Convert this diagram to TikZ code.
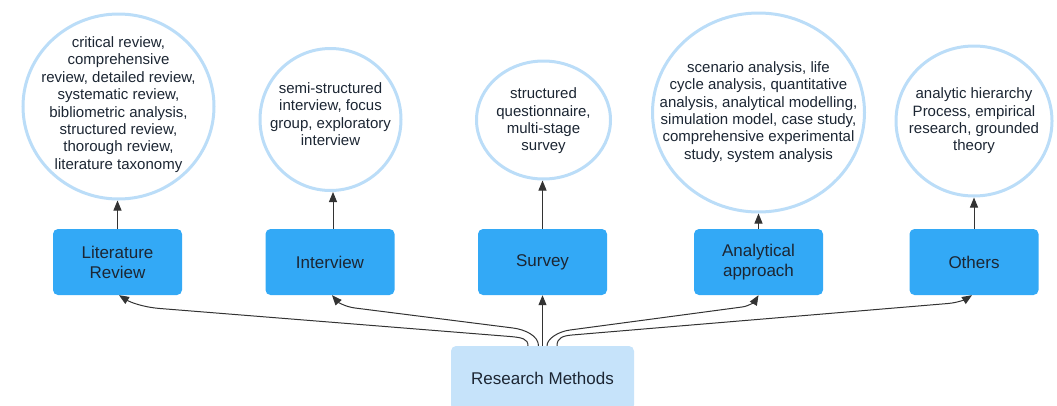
\documentclass[tikz,border=0pt]{standalone}
\usepackage{fontspec}
\setmainfont{Liberation Sans}
\usetikzlibrary{arrows.meta,calc,shapes.geometric}
\definecolor{boxblue}{HTML}{33A9F6}
\definecolor{rmblue}{HTML}{C6E3FA}
\definecolor{ringblue}{HTML}{BBDDF8}
\definecolor{txt}{HTML}{1C2633}
\definecolor{arr}{HTML}{333333}
\begin{document}
\begin{tikzpicture}[x=1pt,y=-1pt,
 method/.style={draw=none, fill=boxblue, rounded corners=5pt, minimum width=129pt, minimum height=66pt, align=center, font=\fontsize{17}{20}\selectfont, text=txt, inner sep=0pt},
 root/.style={fill=rmblue, rounded corners=5pt, minimum width=183pt, minimum height=64pt, font=\fontsize{17}{20}\selectfont, text=txt, inner sep=0pt},
 ring/.style={ellipse, draw=ringblue, line width=3pt, fill=white, inner sep=0pt},
 ringtext/.style={align=center, font=\fontsize{15}{17.4}\selectfont, text=txt, inner sep=0pt},
 conn/.style={draw=arr, line width=1pt, -{Triangle[length=10pt,width=8pt]}}
]
\useasboundingbox (0,0) rectangle (1057,405);

% rings
\node[ring, minimum width=191pt, minimum height=185pt] (c1) at (118.5,106.5) {};
\node[ringtext] (t1) at (118.5,104.5) {critical review,\\comprehensive\\review, detailed review,\\systematic review,\\bibliometric analysis,\\structured review,\\thorough review,\\literature taxonomy};
\node[ring, minimum width=141pt, minimum height=142pt] (c2) at (330.5,119.5) {};
\node[ringtext] (t2) at (330.5,114) {semi-structured\\interview, focus\\group, exploratory\\interview};
\node[ring, minimum width=134pt, minimum height=118pt] (c3) at (543.5,120) {};
\node[ringtext] (t3) at (543.5,121) {structured\\questionnaire,\\multi-stage\\survey};
\node[ring, minimum width=212pt, minimum height=199pt] (c4) at (758.5,112.5) {};
\node[ringtext] (t4) at (758.5,112) {scenario analysis, life\\cycle analysis, quantitative\\analysis, analytical modelling,\\simulation model, case study,\\comprehensive experimental\\study, system analysis};
\node[ring, minimum width=156pt, minimum height=150pt] (c5) at (974,121) {};
\node[ringtext] (t5) at (974,121) {analytic hierarchy\\Process, empirical\\research, grounded\\theory};

% method boxes
\node[method] (lr) at (117.5,262) {Literature\\Review};
\node[method] (iv) at (330,262) {Interview};
\node[method] (sv) at (542.5,262) {Survey};
\node[method] (an) at (758.5,262) {Analytical\\approach};
\node[method] (ot) at (974,262) {Others};

% root
\node[root] (rm) at (542.5,378) {Research Methods};

% box to ring arrows
\draw[conn] (lr.north) -- (lr.north |- c1.south);
\draw[conn] ($(iv.north)+(3,0)$) -- ($(iv.north |- c2.south)+(3,0)$);
\draw[conn] (sv.north) -- (sv.north |- c3.south);
\draw[conn] (an.north) -- (an.north |- c4.south);
\draw[conn] (ot.north) -- (ot.north |- c5.south);

% root to boxes
\draw[conn] ($(rm.north)+(-14.5,0)$) .. controls +(0,-7) and (522,337.5) .. (510,336.5)
   -- (160,308.5) .. controls (142,307) and (130,302) .. ($(lr.south)+(1.5,0)$);
\draw[conn] ($(rm.north)+(-4,0)$) .. controls +(0,-10) and (525,329.5) .. (513,328)
   -- (355,308) .. controls (345,306.7) and (338,302) .. ($(iv.south)+(2,0)$);
\draw[conn] (rm.north) -- (sv.south);
\draw[conn] ($(rm.north)+(4.5,0)$) .. controls +(0,-7) and (558,331.6) .. (570,330)
   -- (742,307) .. controls (750,305.9) and (755,301) .. (an.south);
\draw[conn] ($(rm.north)+(14.5,0)$) .. controls +(0,-8) and (563,335.76) .. (572,335)
   -- (948,303.5) .. controls (958,302.66) and (966,299) .. ($(ot.south)+(-2,0)$);
\end{tikzpicture}
\end{document}
